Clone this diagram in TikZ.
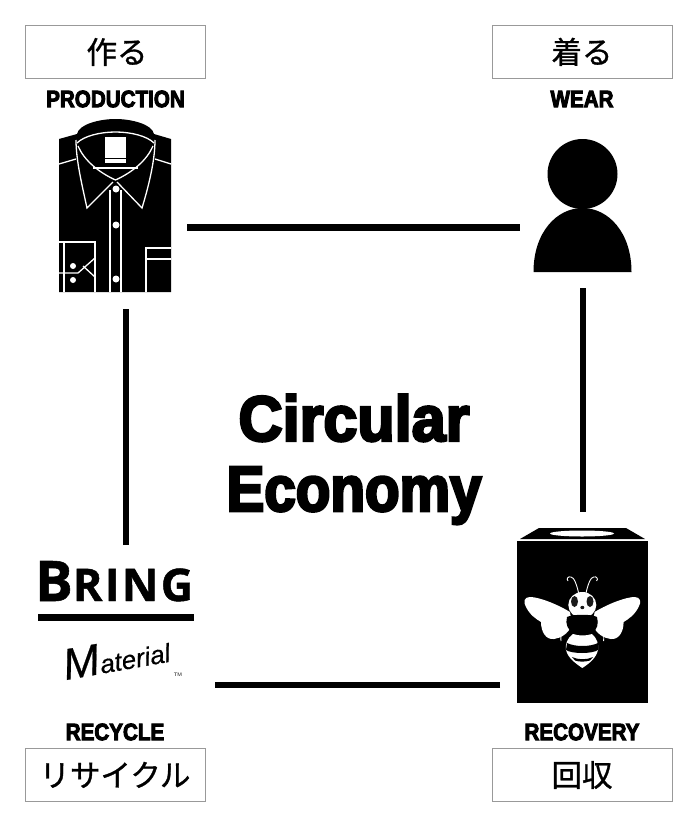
\documentclass[tikz,border=0pt]{standalone}
\usepackage{fontspec}
\usepackage{tikz}
\usetikzlibrary{positioning, calc}
\newfontfamily\jpfont[FakeBold=1]{Noto Sans CJK JP}
\newfontfamily\headfont[FakeBold=4, FakeStretch=0.87]{Liberation Sans Bold}
\newfontfamily\bigfont[FakeBold=4, FakeStretch=0.955]{Liberation Sans Bold}
\newfontfamily\bigfontb[FakeBold=4, FakeStretch=0.885]{Liberation Sans Bold}
\newfontfamily\logofont[FakeBold=1, LetterSpace=5]{Open Sans Bold}
\newfontfamily\handfont[FakeBold=0.5]{Liberation Sans Italic}
\tikzstyle{Link} = [line width=6.5pt, black]
\tikzstyle{Thin} = [line width=1.3pt, white]
\tikzstyle{Frame} = [draw=black!40, line width=1pt, minimum width=180pt, minimum height=53pt, inner sep=0pt, text height=27pt, text depth=3pt, font=\jpfont\fontsize{30.5}{30}\selectfont]
\tikzstyle{Framed} = [inner sep=0pt, text height=27pt, text depth=3pt, font=\jpfont\fontsize{30.5}{30}\selectfont]
\tikzstyle{Head} = [inner sep=0pt, font=\headfont\fontsize{23.7}{24}\selectfont]
\tikzstyle{Icon} = [inner sep=0pt, outer sep=0pt]

\begin{document}
\begin{tikzpicture}[x=1pt, y=-1pt]
\useasboundingbox (0,0) rectangle (697,827);

\node [Frame] (make) at (115,51.5) {};
\node [Framed] (maketext) at (make.center) [xshift=2pt] {作る};
\node [Frame] (wear) at (582,51.5) {着る};
\node [Frame] (back) at (582,774.5) {回収};
\node [Frame] (recy) at (115,774.5) {リサイクル};

\node [Head] (production) at (115.5,99) {PRODUCTION};
\node [Head] (wearing) at (582,99) {WEAR};
\node [Head] (recycle) at (115,732) {RECYCLE};
\node [Head] (recovery) at (582,732) {RECOVERY};

\node [inner sep=0pt, font=\bigfont\fontsize{64}{64}\selectfont] (title) at (354,418) {Circular};
\node [inner sep=0pt, font=\bigfontb\fontsize{64}{64}\selectfont, anchor=base] (titleb) at (354,511) {Economy};

\node [Icon, minimum width=122pt, minimum height=162pt] (shirt) at (126,227.5) {};
\node [Icon, minimum width=126pt, minimum height=121pt] (person) at (583,227.5) {};
\node [Icon, minimum width=166pt, minimum height=346pt] (box) at (583,685) {};
\node [Icon, minimum width=178pt, minimum height=280pt] (bring) at (126,685) {};

\draw [Link] (shirt.east) -- (person.west);
\draw [Link] (person.south) -- (box.north);
\draw [Link] (box.west) -- (bring.east);
\draw [Link] (bring.north) -- (shirt.south);

% shirt
\fill (59,139) -- (77,134) .. controls (79,124) and (100,119) .. (115.5,119) .. controls (131,119) and (152,124) .. (154,134) -- (171,139) -- (171,292) -- (59,292) -- cycle;
\draw [Thin] (77,143) .. controls (84,136) and (100,132) .. (115.5,132) .. controls (131,132) and (147,136) .. (154,143);
\draw [Thin] (78,146) .. controls (84,160) and (98,172) .. (115.5,180) .. controls (133,172) and (147,160) .. (153,146);
\draw [Thin] (93,168) -- (138,168);
\draw [Thin] (76,140) .. controls (76,160) and (82,185) .. (87,208) -- (113,182);
\draw [Thin] (155,140) .. controls (155,160) and (149,185) .. (142,208) -- (117,182);
\draw [Thin] (59,164) -- (76,159);
\draw [Thin] (155,159) -- (171,164);
\fill [white] (105,137) rectangle (126,158);
\fill [white] (105,159) rectangle (126,163);
\draw [Thin] (110,190) -- (110,292);
\draw [Thin] (121,190) -- (121,292);
\foreach \y in {189,225,279} \fill [white] (116,\y) circle (3.5pt);
\draw [Thin] (59,242) -- (95,242) -- (95,292);
\draw [Thin] (64,242) -- (64,292);
\draw [Thin] (59,273) -- (78,273) -- (95,258);
\draw [Thin] (83,266) -- (95,277);
\foreach \y in {266,280} \fill [white] (73,\y) circle (3pt);
\draw [Thin] (171,248) -- (146,248) -- (146,292);
\draw [Thin] (146,259) -- (171,259);

% person
\fill (582.5,174) circle (35pt);
\fill (533.5,272) .. controls (533.5,232) and (557,208) .. (582.5,208) .. controls (608,208) and (631.5,232) .. (631.5,272) -- cycle;

% box
\fill (517,541) rectangle (648,703);
\fill (520,539) -- (539,528) -- (626,528) -- (645,539) -- cycle;
\fill [white] (582,533.5) ellipse (32pt and 3pt);

% bee
\foreach \m/\s in {0/1, 1164.6/-1} {
    \begin{scope}[shift={(\m,0)}, xscale=\s]
    \fill [white] (570,612) .. controls (555,603) and (538,597) .. (530,597) .. controls (524,597) and (523,602) .. (526,607) .. controls (530,615) and (536,619) .. (541,622) .. controls (541,632) and (546,640) .. (554,639) .. controls (561,638) and (568,634) .. (572,625) -- cycle;
    \draw [white, line width=0.9pt] (571,616) .. controls (563,622) and (560,632) .. (561,641);
    \draw [white, line width=0.9pt] (579,595) .. controls (577,585) and (574,577) .. (571,577) .. controls (568,576) and (566,579) .. (568,581);
    \end{scope}
}
\fill [white] (582.3,605) ellipse (14pt and 13pt);
\fill [black!90] (574.5,601.5) ellipse (3.5pt and 5.5pt);
\fill [black!90] (590,601.5) ellipse (3.5pt and 5.5pt);
\fill [black!90] (582.3,607.5) ellipse (2pt and 1.7pt);
\fill (567,617) .. controls (573,614) and (592,614) .. (597,617) .. controls (599,624) and (597,630) .. (592,633) .. controls (585,635) and (579,635) .. (573,633) .. controls (568,630) and (565,624) .. (567,617) -- cycle;
\fill [white] (573,634) .. controls (579,636) and (586,636) .. (592,634) .. controls (597,638) and (599,645) .. (598,650) .. controls (596,658) and (590,663) .. (582.3,668) .. controls (575,663) and (568,658) .. (566,650) .. controls (565,645) and (567,638) .. (573,634) -- cycle;
\fill (567,643) .. controls (575,647) and (590,647) .. (598,643) -- (598,650) .. controls (592,654) and (572,654) .. (566,650) -- cycle;
\fill (572,657) .. controls (578,660) and (587,660) .. (593,657) -- (590,660.5) .. controls (585,662) and (579,662) .. (575,660.5) -- cycle;

% logo
\node [inner sep=0pt, anchor=base west, font=\logofont\fontsize{56}{56}\selectfont] (brand) at (35,601) {B\fontsize{45}{45}\selectfont RING};
\fill (38,614) rectangle (194,621);
\node [inner sep=0pt, rotate=10, font=\handfont\fontsize{26}{26}\selectfont] (hand) at (116,656) {\fontsize{44}{44}\selectfont M\fontsize{26}{26}\selectfont aterial};
\node [inner sep=0pt, font=\sffamily\fontsize{5}{5}\selectfont] (tm) at (178,675) {TM};

\end{tikzpicture}
\end{document}
